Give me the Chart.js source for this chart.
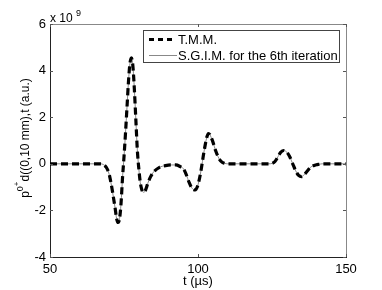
<!DOCTYPE html>
<html>
<head>
<meta charset="utf-8">
<script src="https://cdn.jsdelivr.net/npm/chart.js@4.4.1/dist/chart.umd.min.js"></script>
<style>
  html, body { margin: 0; padding: 0; background: #fff; }
  #wrap { width: 382px; height: 290px; }
</style>
</head>
<body>
<div id="wrap"><canvas id="myChart" width="382" height="290"></canvas></div>
<script>
// time in microseconds, pressure in units of 1e9 (a.u.)
const times = [50, 55, 60, 65, 67, 68, 69, 70, 70.5, 71, 71.5, 72, 72.5, 73, 73.5, 74, 74.5, 75, 75.5, 76, 76.5,
    77, 77.5, 78, 78.5, 79, 79.5, 80, 80.5, 81, 81.5, 82, 82.5, 83, 84, 85, 87, 89, 91, 92.5, 94, 95, 96, 97,
    98, 99, 100, 101, 102, 103, 103.5, 104, 105, 106, 107, 108, 109, 110, 118, 124, 125, 126, 127, 128, 129, 130,
    131, 132, 133, 134, 135, 136, 137, 138, 139, 140, 141, 142, 146, 150];
const tmmValues = [0, 0, 0, 0, 0, -0.03, -0.15, -0.45, -0.75, -1.1, -1.5, -1.9, -2.35, -2.52, -2.35, -1.7, -0.6, 0.3, 1.3, 2.4, 3.5,
    4.3, 4.55, 4.2, 3.2, 1.9, 0.6, -0.2, -0.8, -1.1, -1.22, -1.2, -1.05, -0.85, -0.55, -0.35, -0.15, -0.08, -0.05, -0.05, -0.12, -0.2, -0.45, -0.8,
    -1.05, -1.12, -0.9, -0.3, 0.5, 1.15, 1.3, 1.25, 0.95, 0.55, 0.25, 0.08, 0.02, 0, 0, 0, 0.02, 0.1, 0.3, 0.5, 0.57, 0.5,
    0.3, 0, -0.3, -0.5, -0.55, -0.45, -0.3, -0.15, -0.08, -0.04, -0.02, 0, 0, 0];
// the 6th S.G.I.M. iteration lies on top of the T.M.M. curve
const sgimValues = [...tmmValues];
const seriesLabels = ["T.M.M.", "S.G.I.M. for the 6th iteration"];
const xTicks = [50, 100, 150];
const yTicks = [-4, -2, 0, 2, 4, 6];

const FONT = "'Liberation Sans', Arial, sans-serif";

const extras = {
    id: 'extras',
    afterDraw(chart) {
        const ctx = chart.ctx;
        const a = chart.chartArea;
        const xs = chart.scales.x, ys = chart.scales.y;
        ctx.save();
        // frame top/right
        ctx.strokeStyle = '#888';
        ctx.lineWidth = 1;
        ctx.beginPath();
        ctx.moveTo(a.left, a.top + 0.5); ctx.lineTo(a.right + 0.5, a.top + 0.5);
        ctx.lineTo(a.right + 0.5, a.bottom);
        ctx.stroke();
        // inner ticks
        ctx.strokeStyle = '#555';
        ctx.beginPath();
        xTicks.forEach(v => {
            const px = Math.round(xs.getPixelForValue(v)) + 0.5;
            ctx.moveTo(px, a.bottom); ctx.lineTo(px, a.bottom - 3);
            ctx.moveTo(px, a.top); ctx.lineTo(px, a.top + 3);
        });
        yTicks.forEach(v => {
            const py = Math.round(ys.getPixelForValue(v)) + 0.5;
            ctx.moveTo(a.left, py); ctx.lineTo(a.left + 3, py);
            ctx.moveTo(a.right, py); ctx.lineTo(a.right - 3, py);
        });
        ctx.stroke();

        ctx.fillStyle = '#000';
        // multiplier
        ctx.font = '12px ' + FONT;
        ctx.textBaseline = 'alphabetic';
        ctx.textAlign = 'left';
        ctx.fillText('x 10', a.left, 22);
        ctx.font = '9px ' + FONT;
        ctx.fillText('9', a.left + 26, 16);

        // x title
        ctx.font = '13px ' + FONT;
        ctx.textAlign = 'center';
        ctx.fillText('t (\u00b5s)', (a.left + a.right) / 2, 285);

        // y title, rotated
        ctx.save();
        ctx.translate(29, 138);
        ctx.rotate(-Math.PI / 2);
        const parts = [
            ['p', 12, 0], ['0', 9, -6], ['+', 8, -10], ['d((0,10 mm),t (a.u.)', 12, 0]
        ];
        let total = 0;
        parts.forEach(p => { ctx.font = p[1] + 'px ' + FONT; total += ctx.measureText(p[0]).width; });
        let cx = -total / 2;
        ctx.textAlign = 'left';
        parts.forEach(p => {
            ctx.font = p[1] + 'px ' + FONT;
            ctx.fillText(p[0], cx, p[2]);
            cx += ctx.measureText(p[0]).width;
        });
        ctx.restore();

        // legend
        const bx = 143, by = 30, bw = 196, bh = 32;
        ctx.fillStyle = '#fff';
        ctx.fillRect(bx, by, bw, bh);
        ctx.strokeStyle = '#444';
        ctx.strokeRect(bx + 0.5, by + 0.5, bw, bh);
        ctx.strokeStyle = '#000';
        ctx.lineWidth = 3;
        ctx.setLineDash([5, 4]);
        ctx.beginPath();
        ctx.moveTo(149, 39.5); ctx.lineTo(173, 39.5);
        ctx.stroke();
        ctx.setLineDash([]);
        ctx.strokeStyle = '#888';
        ctx.lineWidth = 1;
        ctx.beginPath();
        ctx.moveTo(149, 55.5); ctx.lineTo(177, 55.5);
        ctx.stroke();
        ctx.fillStyle = '#000';
        ctx.font = '13px ' + FONT;
        ctx.textAlign = 'left';
        ctx.textBaseline = 'middle';
        ctx.fillText(seriesLabels[0], 178, 40);
        ctx.fillText(seriesLabels[1], 178, 56);
        ctx.restore();
    }
};

new Chart("myChart", {
    type: "line",
    data: {
        labels: times,
        datasets: [{
            label: seriesLabels[0],
            data: tmmValues,
            borderColor: "#000",
            borderWidth: 3.2,
            borderDash: [7, 4],
            pointRadius: 0,
            cubicInterpolationMode: "monotone",
            fill: false
        }, {
            label: seriesLabels[1],
            data: sgimValues,
            borderColor: "#888",
            borderWidth: 1,
            pointRadius: 0,
            cubicInterpolationMode: "monotone",
            fill: false
        }]
    },
    plugins: [extras],
    options: {
        responsive: false,
        animation: false,
        events: [],
        layout: { padding: { left: 0, top: 24, right: 36, bottom: 0 } },
        plugins: {
            legend: { display: false },
            tooltip: { enabled: false }
        },
        scales: {
            x: {
                type: "linear",
                min: 50, max: 150,
                afterFit: s => { s.height = 33; },
                afterBuildTicks: s => { s.ticks = xTicks.map(v => ({ value: v })); },
                grid: { display: false, drawTicks: false },
                border: { display: true, color: "#222", width: 1 },
                ticks: { padding: 5, color: "#000", font: { family: FONT, size: 13 }, maxRotation: 0 }
            },
            y: {
                min: -4, max: 6,
                afterFit: s => { s.width = 50; },
                afterBuildTicks: s => { s.ticks = yTicks.map(v => ({ value: v })); },
                grid: { display: false, drawTicks: false },
                border: { display: true, color: "#222", width: 1 },
                ticks: { padding: 4, color: "#000", font: { family: FONT, size: 13 } }
            }
        }
    }
});
</script>
</body>
</html>
